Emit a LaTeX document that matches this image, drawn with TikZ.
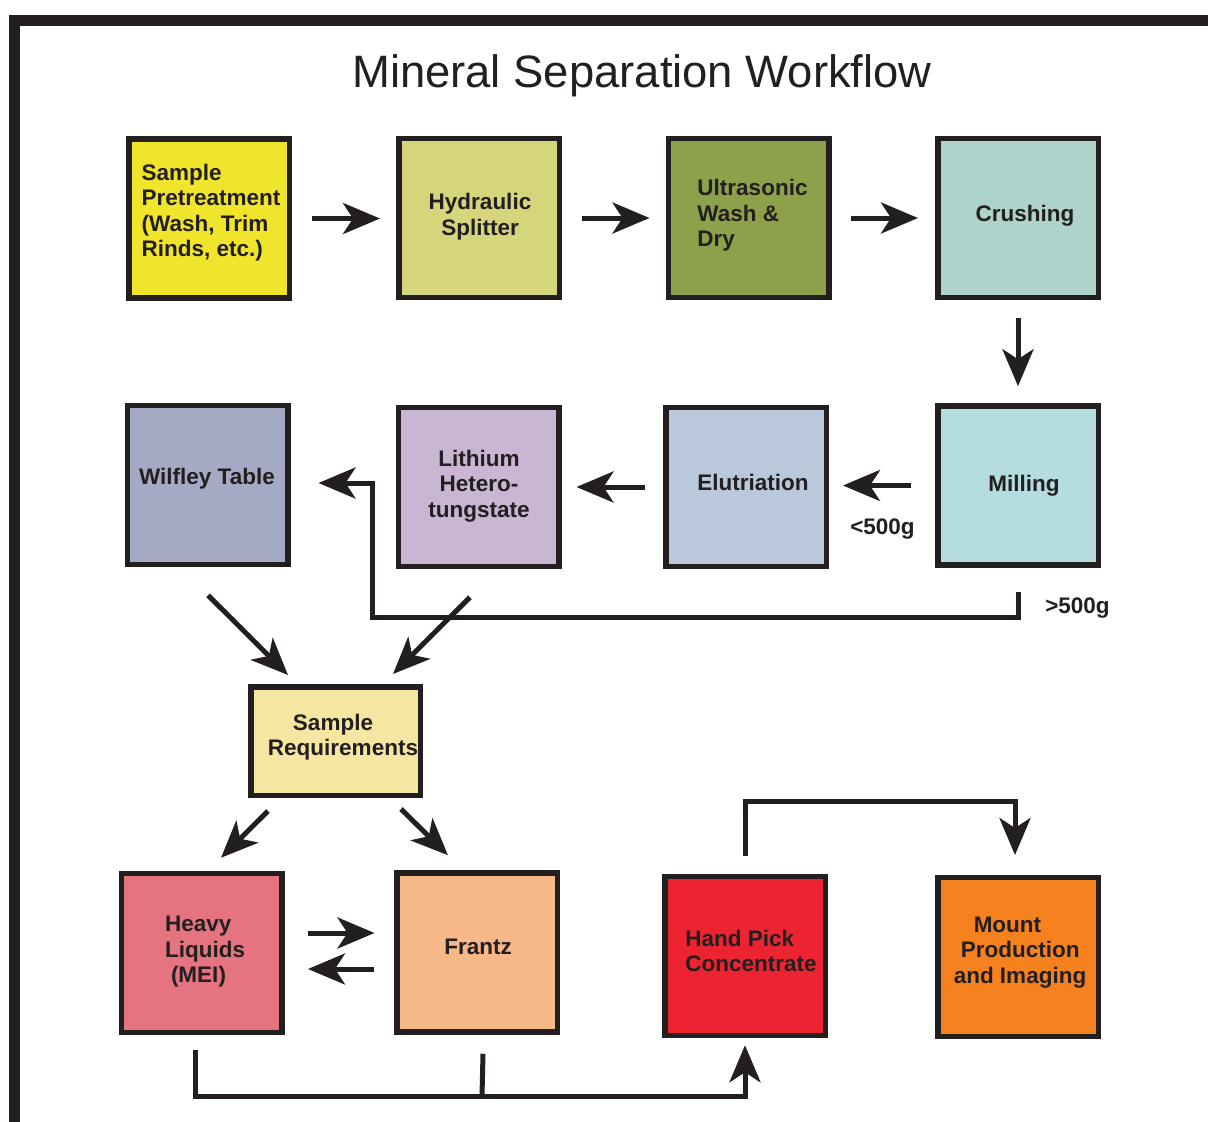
\documentclass[tikz,border=0pt]{standalone}
\usepackage{fontspec}
\setmainfont{Liberation Sans}
\usetikzlibrary{arrows.meta,calc}
\definecolor{ink}{HTML}{231F20}
\definecolor{cA}{HTML}{F1E52C}
\definecolor{cB}{HTML}{D5D67C}
\definecolor{cC}{HTML}{8DA14B}
\definecolor{cD}{HTML}{AED3CB}
\definecolor{cE}{HTML}{B5DCDF}
\definecolor{cF}{HTML}{BAC8DC}
\definecolor{cG}{HTML}{C8B6D2}
\definecolor{cH}{HTML}{A5AAC4}
\definecolor{cI}{HTML}{F5E7A1}
\definecolor{cJ}{HTML}{E67480}
\definecolor{cK}{HTML}{F5B886}
\definecolor{cL}{HTML}{EC2431}
\definecolor{cM}{HTML}{F6821F}
\begin{document}
\begin{tikzpicture}[x=1pt,y=-1pt,
  box/.style={draw=ink,line width=5.5pt,outer sep=2.75pt,inner sep=0pt,
    minimum width=160.5pt,minimum height=159pt},
  txt/.style={font=\fontsize{22.5}{25.5}\selectfont\bfseries,text=ink,inner sep=0pt},
  arr/.style={draw=ink,line width=5pt,-{Stealth[length=37pt,width=31pt,inset=10pt]}},
  conn/.style={draw=ink,line width=5pt}]
\useasboundingbox (0,0) rectangle (1208,1122);
% frame
\draw[ink,line width=11pt] (14.5,1130) -- (14.5,20.5) -- (1215,20.5);
% title
\node[font=\fontsize{45.4}{50}\selectfont,text=ink,anchor=base,inner sep=0pt] (title) at (642,87.5) {Mineral Separation Workflow};
% boxes
\node[box,fill=cA] (b1) at (209,218.5) {};
\node[box,fill=cB] (b2) at (479,218) {};
\node[box,fill=cC] (b3) at (748.5,218) {};
\node[box,fill=cD] (b4) at (1018,218) {};
\node[box,fill=cE] (b5) at (1018,485.5) {};
\node[box,fill=cF] (b6) at (746,487) {};
\node[box,fill=cG] (b7) at (478.5,487) {};
\node[box,fill=cH] (b8) at (207.5,485) {};
\node[box,fill=cI,minimum width=169.5pt,minimum height=108.5pt] (b9) at (335.5,741) {};
\node[box,fill=cJ] (b10) at (201.5,953) {};
\node[box,fill=cK] (b11) at (477,952.5) {};
\node[box,fill=cL] (b12) at (745,956) {};
\node[box,fill=cM] (b13) at (1018,957) {};
% texts
\node[txt,align=left] (t1) at (211,212.5) {Sample\\Pretreatment\\(Wash, Trim\\Rinds, etc.)};
\node[txt,align=center] (t2) at (480,216.5) {Hydraulic\\Splitter};
\node[txt,align=left] (t3) at (752.5,215.5) {Ultrasonic\\Wash \&\\Dry};
\node[txt] (t4) at (1025,216) {Crushing};
\node[txt] (t5) at (1024,486) {Milling};
\node[txt] (t6) at (753,482) {Elutriation};
\node[txt,align=center] (t7) at (479,486) {Lithium\\Hetero-\\tungstate};
\node[txt] (t8) at (207,479) {Wilfley Table};
\node[txt,align=left] (t9) at (343,737) {\hspace*{25pt}Sample\\Requirements};
\node[txt,align=left] (t10) at (205,952) {Heavy\\Liquids\\\hspace*{6pt}(MEI)};
\node[txt] (t11) at (478,947) {Frantz};
\node[txt,align=left] (t12) at (751,951) {Hand Pick\\Concentrate};
\node[txt,align=left] (t13) at (1020,952.5) {\hspace*{20pt}Mount\\\hspace*{7pt}Production\\and Imaging};
\node[txt] (l1) at (882.5,529) {<500g};
\node[txt] (l2) at (1077.5,608) {>500g};
% coordinates
\coordinate (c1) at (1018,617);
\coordinate (c2) at (372,617);
\coordinate (c3) at (372,483);
\coordinate (c4) at (195,1096);
\coordinate (c5) at (745,1096);
\coordinate (c6) at (482,1096);
\coordinate (c7) at (745,801);
\coordinate (c8) at (1015,801);
\coordinate (c9) at (1015,874);
% connectors
\draw[arr,shorten <=20pt,shorten >=16pt] (b1.east) -- (b1.east -| b2.west);
\draw[arr,shorten <=20pt,shorten >=16pt] (b2.east) -- (b2.east -| b3.west);
\draw[arr,shorten <=19pt,shorten >=17pt] (b3.east) -- (b3.east -| b4.west);
\draw[arr,shorten <=18pt,shorten >=17pt] (b4.south) -- (b4.south |- b5.north);
\draw[arr,shorten <=24pt,shorten >=14pt] (b5.west) -- (b5.west -| b6.east);
\draw[arr,shorten <=18pt,shorten >=15pt] (b6.west) -- (b6.west -| b7.east);
\draw[arr,shorten <=24pt,shorten >=28pt] (b5.south) -- (c1) -- (c2) -- (c3) -- (c3 -| b8.east);
\draw[arr] ($(b8.south)+(0.5,28)$) -- ($(b9.north west)+(40,-9)$);
\draw[arr] ($(b7.south)+(-8.5,28)$) -- ($(b9.north east)+(-30,-10)$);
\draw[arr] ($(b9.south west)+(20,13)$) -- ($(b10.north)+(19.5,-13)$);
\draw[arr] ($(b9.south east)+(-22,11)$) -- ($(b11.north)+(-29,-15)$);
\draw[arr,shorten <=23.5pt,shorten >=19.5pt] (b10.east |- 0,933) -- (b11.west |- 0,933);
\draw[arr,shorten <=20.5pt,shorten >=23.5pt] (b11.west |- 0,969) -- (b10.east |- 0,969);
\draw[arr,shorten >=7pt] ($(b10.south)+(-6.5,15)$) -- (c4) -- (c5) -- (b12.south);
\draw[conn] ($(b11.south)+(6,19)$) -- (c6);
\draw[arr,shorten <=18pt,shorten >=19pt] (b12.north) -- (c7) -- (c8) -- (c9);
\end{tikzpicture}
\end{document}
